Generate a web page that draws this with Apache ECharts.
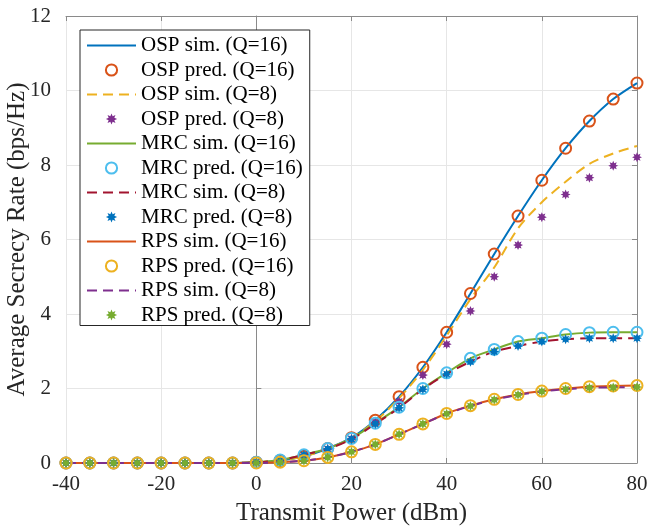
<!DOCTYPE html>
<html>
<head>
<meta charset="utf-8">
<script src="https://cdn.jsdelivr.net/npm/echarts@6/dist/echarts.min.js"></script>
<style>
  html, body { margin: 0; padding: 0; background: #fff; }
  #chart { width: 649px; height: 531px; }
</style>
</head>
<body>
<div id="chart"></div>
<script>
// transmit power (dBm)
const powers = [-40, -35, -30, -25, -20, -15, -10, -5, 0, 5, 10, 15, 20, 25, 30, 35, 40, 45, 50, 55, 60, 65, 70, 75, 80]

const ospSim16 = [0, 0, 0, 0, 0, 0, 0, 0, 0.02, 0.07, 0.18, 0.39, 0.68, 1.15, 1.78, 2.57, 3.51, 4.55, 5.61, 6.63, 7.59, 8.45, 9.18, 9.77, 10.2]
const ospPred16 = [0, 0, 0, 0, 0, 0, 0, 0, 0.02, 0.07, 0.18, 0.39, 0.68, 1.15, 1.78, 2.57, 3.51, 4.55, 5.61, 6.63, 7.59, 8.45, 9.18, 9.77, 10.2]
const ospSim8 = [0, 0, 0, 0, 0, 0, 0, 0, 0.02, 0.07, 0.18, 0.38, 0.67, 1.12, 1.74, 2.5, 3.42, 4.4, 5.25, 6.3, 7.0, 7.55, 8.03, 8.31, 8.51]
const ospPred8 = [0, 0, 0, 0, 0, 0, 0, 0, 0.02, 0.07, 0.17, 0.37, 0.65, 1.1, 1.65, 2.36, 3.19, 4.08, 5.0, 5.85, 6.6, 7.21, 7.66, 7.98, 8.21]
const mrcSim16 = [0, 0, 0, 0, 0, 0, 0, 0, 0.02, 0.08, 0.22, 0.39, 0.66, 1.07, 1.5, 2.0, 2.42, 2.81, 3.05, 3.26, 3.35, 3.45, 3.5, 3.51, 3.51]
const mrcPred16 = [0, 0, 0, 0, 0, 0, 0, 0, 0.02, 0.08, 0.22, 0.39, 0.66, 1.07, 1.5, 2.0, 2.42, 2.81, 3.05, 3.26, 3.35, 3.45, 3.5, 3.51, 3.51]
const mrcSim8 = [0, 0, 0, 0, 0, 0, 0, 0, 0.02, 0.08, 0.22, 0.38, 0.64, 1.05, 1.48, 1.98, 2.39, 2.72, 2.99, 3.14, 3.26, 3.32, 3.35, 3.35, 3.35]
const mrcPred8 = [0, 0, 0, 0, 0, 0, 0, 0, 0.02, 0.08, 0.22, 0.38, 0.64, 1.05, 1.48, 1.98, 2.39, 2.72, 2.99, 3.14, 3.26, 3.32, 3.35, 3.35, 3.35]
const rpsSim16 = [0, 0, 0, 0, 0, 0, 0, 0, 0, 0.02, 0.06, 0.15, 0.3, 0.5, 0.77, 1.05, 1.33, 1.54, 1.71, 1.84, 1.93, 2.0, 2.05, 2.07, 2.08]
const rpsPred16 = [0, 0, 0, 0, 0, 0, 0, 0, 0, 0.02, 0.06, 0.15, 0.3, 0.5, 0.77, 1.05, 1.33, 1.54, 1.71, 1.84, 1.93, 2.0, 2.05, 2.07, 2.08]
const rpsSim8 = [0, 0, 0, 0, 0, 0, 0, 0, 0, 0.02, 0.06, 0.15, 0.3, 0.5, 0.77, 1.05, 1.32, 1.53, 1.7, 1.83, 1.92, 1.98, 2.02, 2.03, 2.04]
const rpsPred8 = [0, 0, 0, 0, 0, 0, 0, 0, 0, 0.02, 0.06, 0.15, 0.3, 0.5, 0.77, 1.05, 1.32, 1.53, 1.7, 1.83, 1.92, 1.98, 2.02, 2.03, 2.04]

const FONT = '"Liberation Serif", "Times New Roman", serif'
const TXT = '#262626'

// filled asterisk-like marker (8 spikes)
function starPath () {
  let d = ''
  for (let i = 0; i < 16; i++) {
    const r = i % 2 === 0 ? 10 : 5.5
    const a = Math.PI / 8 * i - Math.PI / 2
    const x = (10 + r * Math.cos(a)).toFixed(2)
    const y = (10 + r * Math.sin(a)).toFixed(2)
    d += (i === 0 ? 'M' : 'L') + x + ' ' + y + ' '
  }
  return 'path://' + d + 'Z'
}
const STAR = starPath()

function pairs (ys) {
  return powers.map((x, i) => [x, ys[i]])
}

function simLine (name, ys, color, dashed) {
  return {
    name: name,
    type: 'line',
    data: pairs(ys),
    smooth: 0.3,
    symbol: 'none',
    lineStyle: { color: color, width: 2, type: dashed ? [10, 6] : 'solid' },
    itemStyle: { color: color }
  }
}

function circles (name, ys, color) {
  return {
    name: name,
    type: 'line',
    data: pairs(ys),
    symbol: 'circle',
    symbolSize: 11,
    showSymbol: true,
    lineStyle: { width: 0, opacity: 0 },
    itemStyle: { color: 'rgba(255,255,255,0)', borderColor: color, borderWidth: 2 }
  }
}

function stars (name, ys, color) {
  return {
    name: name,
    type: 'line',
    data: pairs(ys),
    symbol: STAR,
    symbolSize: 10,
    showSymbol: true,
    lineStyle: { width: 0, opacity: 0 },
    itemStyle: { color: color, borderWidth: 0 }
  }
}

const series = [
  simLine('OSP sim. (Q=16)', ospSim16, '#0072BD', false),
  circles('OSP pred. (Q=16)', ospPred16, '#D95319'),
  simLine('OSP sim. (Q=8)', ospSim8, '#EDB120', true),
  stars('OSP pred. (Q=8)', ospPred8, '#7E2F8E'),
  simLine('MRC sim. (Q=16)', mrcSim16, '#77AC30', false),
  circles('MRC pred. (Q=16)', mrcPred16, '#4DBEEE'),
  simLine('MRC sim. (Q=8)', mrcSim8, '#A2142F', true),
  stars('MRC pred. (Q=8)', mrcPred8, '#0072BD'),
  simLine('RPS sim. (Q=16)', rpsSim16, '#D95319', false),
  circles('RPS pred. (Q=16)', rpsPred16, '#EDB120'),
  simLine('RPS sim. (Q=8)', rpsSim8, '#7E2F8E', true),
  stars('RPS pred. (Q=8)', rpsPred8, '#77AC30')
]

// sim entries: line only in the legend
const legendData = series.map(s => s.symbol === 'none'
  ? { name: s.name, itemStyle: { opacity: 0 } }
  : { name: s.name })

const chart = echarts.init(document.getElementById('chart'), null, { renderer: 'canvas' })

const axisLineStyle = { color: '#8a8a8a', width: 1 }

const option = {
  animation: false,
  backgroundColor: '#fff',
  grid: { left: 66, right: 12, top: 16, bottom: 68, containLabel: false, outerBoundsMode: 'none' },
  legend: {
    data: legendData,
    orient: 'vertical',
    left: 80,
    top: 30,
    padding: [5, 7, 0, 6],
    itemWidth: 49,
    itemHeight: 14,
    itemGap: 3.5,
    backgroundColor: '#fff',
    borderColor: '#262626',
    borderWidth: 1,
    borderRadius: 0,
    textStyle: { fontFamily: FONT, fontSize: 21, color: '#000' }
  },
  xAxis: [{
    type: 'value',
    min: -40,
    max: 80,
    interval: 20,
    name: 'Transmit Power (dBm)',
    nameLocation: 'middle',
    nameGap: 38,
    nameMoveOverlap: false,
    nameTextStyle: { fontFamily: FONT, fontSize: 25, color: TXT },
    axisLine: { show: true, lineStyle: axisLineStyle },
    axisTick: { show: true, inside: true, length: 5, lineStyle: axisLineStyle },
    axisLabel: { fontFamily: FONT, fontSize: 21, color: TXT, margin: 11 },
    splitLine: { show: true, lineStyle: { color: '#e6e6e6' } }
  }, {
    type: 'value',
    position: 'top',
    min: -40,
    max: 80,
    interval: 20,
    axisLine: { show: true, onZero: false, lineStyle: axisLineStyle },
    axisTick: { show: true, inside: true, length: 5, lineStyle: axisLineStyle },
    axisLabel: { show: false },
    splitLine: { show: false }
  }],
  yAxis: [{
    type: 'value',
    min: 0,
    max: 12,
    interval: 2,
    name: 'Average Secrecy Rate (bps/Hz)',
    nameLocation: 'middle',
    nameGap: 36,
    nameMoveOverlap: false,
    nameTextStyle: { fontFamily: FONT, fontSize: 25, color: TXT },
    axisLine: { show: true, lineStyle: axisLineStyle },
    axisTick: { show: true, inside: true, length: 5, lineStyle: axisLineStyle },
    axisLabel: { fontFamily: FONT, fontSize: 21, color: TXT, margin: 15 },
    splitLine: { show: true, lineStyle: { color: '#e6e6e6' } }
  }, {
    type: 'value',
    position: 'right',
    min: 0,
    max: 12,
    interval: 2,
    axisLine: { show: true, onZero: false, lineStyle: axisLineStyle },
    axisTick: { show: true, inside: true, length: 5, lineStyle: axisLineStyle },
    axisLabel: { show: false },
    splitLine: { show: false }
  }],
  series: series
}

chart.setOption(option)
</script>
</body>
</html>
